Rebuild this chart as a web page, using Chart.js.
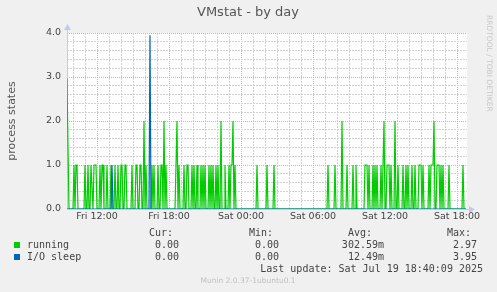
<!DOCTYPE html>
<html>
<head>
<meta charset="utf-8">
<title>VMstat - by day</title>
<script src="https://cdn.jsdelivr.net/npm/chart.js@4.4.1/dist/chart.umd.min.js"></script>
<style>
  html, body { margin: 0; padding: 0; background: #f0f0f0; }
</style>
</head>
<body>
<canvas id="myChart" width="497" height="292"></canvas>
<script>
// one sample every 5 minutes, first one at Fri 09:30 (hours counted from Fri 00:00)
const startHour = 9.5;
const stepHours = 5 / 60;

// process states, 20 samples per row
const running = [
  2.97,1.4,0,0,0,0,0,1,0,1, 1,0,0,0,0,0,0,0,1,0,
  0,1,0,0,1,1,0,1,1,1, 0,0,0,1,0,1,1,0,0,0,
  1,0,0,0,1,0,0,0,1,0, 0,1,0,0,1,1,0,0,1,1,
  0,0,0,0,0,1,0,0,0,1, 1,0,0,1,1,0,0,2,0,1,
  0,0,0,0,0,1,0,1,0,0, 0,1,0,0,1,1,0,2,0,1,
  0,0,0,0,0,0,0,0,0,1, 2,0,1,0,0,0,0,1,0,0,
  1,1,0,0,0,1,0,1,0,0, 1,0,0,0,1,0,1,0,1,0,
  0,0,1,0,1,0,1,0,0,1, 0,1,0,0,2,0,0,0,1,0,
  0,0,1,0,1,1,2,0,1,0, 0,0,0,0,0,0,0,0,0,0,
  0,0,0,0,0,0,0,0,0,0, 1,0,0,0,0,0,0,0,0,0,
  1,0,0,0,0,0,0,1,0,0, 0,0,0,0,0,0,0,0,0,0,
  0,0,0,0,0,0,0,0,0,0, 0,0,0,0,0,0,0,0,0,0,
  0,0,0,0,0,0,0,0,0,0, 0,0,0,0,0,0,0,0,0,0,
  0,1,0,0,0,0,0,0,1,0, 0,0,0,0,0,2,0,0,0,0,
  1,0,0,0,0,0,1,0,0,1, 0,0,0,0,0,0,0,0,1,1,
  1,0,1,0,0,0,1,0,1,0, 1,0,0,0,1,0,0,2,0,0,
  1,1,1,0,1,0,0,0,2,0, 0,1,0,0,0,0,1,0,0,1,
  0,1,0,0,0,1,0,0,1,0, 0,0,1,1,1,0,1,0,0,0,
  0,0,1,0,1,1,1,2,0,0, 1,1,1,0,1,0,1,0,0,0,
  0,0,1,0,0,0,0,0,0,0, 0,0,0,0,0,0,1,0,0,0
];

const ioSleep = [
  0,0,0,0,0,0,0,0,0,0, 0,0,0,0,0,0,0,0,0,0,
  0,0,0,0,0,0,0,0,0,0, 0,0,0,0,0,0,0,0,0,0,
  0,0,0,0,0,1,0,0,0,0, 0,0,0,0,0,0,0,0,0,0,
  0,0,0,0,0,0,0,0,0,0, 0,0,0,0,0,0,0,0,0,0,
  0,0,0,3.95,0,0,0,0,0,0, 0,0,0,0,0,0,0,0,0,0,
  0,0,0,0,0,0,0,0,0,0, 0,0,0,0,0,0,0,0,0,0,
  0,0,0,0,0,0,0,0,0,0, 0,0,0,0,0,0,0,0,0,0,
  0,0,0,0,0,0,0,0,0,0, 0,0,0,0,0,0,0,0,0,0,
  0,0,0,0,0,0,0,0,0,0, 0,0,0,0,0,0,0,0,0,0,
  0,0,0,0,0,0,0,0,0,0, 0,0,0,0,0,0,0,0,0,0,
  0,0,0,0,0,0,0,0,0,0, 0,0,0,0,0,0,0,0,0,0,
  0,0,0,0,0,0,0,0,0,0, 0,0,0,0,0,0,0,0,0,0,
  0,0,0,0,0,0,0,0,0,0, 0,0,0,0,0,0,0,0,0,0,
  0,0,0,0,0,0,0,0,0,0, 0,0,0,0,0,0,0,0,0,0,
  0,0,0,0,0,0,0,0,0,0, 0,0,0,0,0,0,0,0,0,0,
  0,0,0,0,0,0,0,0,0,0, 0,0,0,0,0,0,0,0,0,0,
  0,0,0,0,0,0,0,0,0,0, 0,0,0,0,0,0,0,0,0,0,
  0,0,0,0,0,0,0,0,0,0, 0,0,0,0,0,0,0,0,0,0,
  0,0,0,0,0,0,0,0,0,0, 0,0,0,0,0,0,0,0,0,0,
  0,0,0,0,0,0,0,0,0,0, 0,0,0,0,0,0,0,0,0,0
];

const xTickHours = [12, 18, 24, 30, 36, 42];
const xTickLabels = ['Fri 12:00', 'Fri 18:00', 'Sat 00:00', 'Sat 06:00', 'Sat 12:00', 'Sat 18:00'];
const yTickValues = [0, 1, 2, 3, 4];
const yTickLabels = ['0.0', '1.0', '2.0', '3.0', '4.0'];

// legend table
const seriesNames = ['running', 'I/O sleep'];
const seriesColors = ['#00cc00', '#0066b3'];
const curValues = ['0.00', '0.00'];
const minValues = ['0.00', '0.00'];
const avgValues = ['302.59m', '12.49m'];
const maxValues = ['2.97', '3.95'];
const chartTitle = 'VMstat - by day';
const lastUpdate = 'Last update: Sat Jul 19 18:40:09 2025';
const muninVersion = 'Munin 2.0.37-1ubuntu0.1';

function toPoints(values) {
  return values.map((v, i) => ({ x: startHour + i * stepHours, y: v }));
}

function isWhole(v) {
  return Math.abs(v - Math.round(v)) < 1e-6;
}

const mono = '10px "DejaVu Sans Mono", monospace';
const majorGrid = '#e6a8a8';
const minorGrid = '#d2d2d2';

// background, axes with arrows, title, legend table and side texts
const muninPlugin = {
  id: 'munin',
  beforeDraw(chart) {
    const { ctx, chartArea: a } = chart;
    ctx.save();
    ctx.fillStyle = '#f0f0f0';
    ctx.fillRect(0, 0, chart.width, chart.height);
    ctx.fillStyle = '#ffffff';
    ctx.fillRect(a.left, a.top, a.right - a.left, a.bottom - a.top);
    ctx.restore();
  },
  beforeDatasetsDraw(chart) {
    const { ctx, chartArea: a } = chart;
    ctx.save();
    ctx.strokeStyle = '#c4c8f0';
    ctx.fillStyle = '#c4c8f0';
    ctx.lineWidth = 1;
    ctx.beginPath();
    ctx.moveTo(a.left + 0.5, a.bottom);
    ctx.lineTo(a.left + 0.5, a.top - 4);
    ctx.moveTo(a.left, a.bottom + 0.5);
    ctx.lineTo(a.right + 3, a.bottom + 0.5);
    ctx.stroke();
    ctx.beginPath();
    ctx.moveTo(a.left - 3, a.top - 3);
    ctx.lineTo(a.left + 4, a.top - 3);
    ctx.lineTo(a.left + 0.5, a.top - 9);
    ctx.closePath();
    ctx.fill();
    ctx.beginPath();
    ctx.moveTo(a.right + 2, a.bottom - 3);
    ctx.lineTo(a.right + 2, a.bottom + 4);
    ctx.lineTo(a.right + 8, a.bottom + 0.5);
    ctx.closePath();
    ctx.fill();
    ctx.restore();
  },
  afterDraw(chart) {
    const ctx = chart.ctx;
    ctx.save();
    ctx.textBaseline = 'middle';

    ctx.font = '13px "DejaVu Sans", sans-serif';
    ctx.fillStyle = '#555';
    ctx.textAlign = 'center';
    ctx.fillText(chartTitle, 248, 13);

    ctx.font = mono;
    ctx.fillStyle = '#444';
    ctx.textAlign = 'left';
    ctx.fillText('Cur:', 149, 233);
    ctx.fillText('Min:', 249, 233);
    ctx.fillText('Avg:', 348, 233);
    ctx.fillText('Max:', 447, 233);
    seriesNames.forEach((name, i) => {
      const y = 245 + i * 12;
      ctx.fillStyle = seriesColors[i];
      ctx.fillRect(14, y - 3, 6, 6);
      ctx.fillStyle = '#444';
      ctx.textAlign = 'left';
      ctx.fillText(name, 27, y);
      ctx.textAlign = 'right';
      ctx.fillText(curValues[i], 179, y);
      ctx.fillText(minValues[i], 279, y);
      ctx.fillText(avgValues[i], 384, y);
      ctx.fillText(maxValues[i], 477, y);
    });
    ctx.textAlign = 'right';
    ctx.fillText(lastUpdate, 483, 269);

    ctx.fillStyle = '#c0c0c0';
    ctx.textAlign = 'center';
    ctx.font = '7.5px "DejaVu Sans", sans-serif';
    ctx.fillText(muninVersion, 248, 281);

    ctx.translate(489, 15);
    ctx.rotate(Math.PI / 2);
    ctx.textAlign = 'left';
    ctx.fillStyle = '#c8c8c8';
    ctx.fillText('RRDTOOL / TOBI OETIKER', 0, 0);
    ctx.restore();
  }
};

const ctx = document.getElementById('myChart').getContext('2d');
const myChart = new Chart(ctx, {
  type: 'line',
  data: {
    datasets: [
      {
        label: 'running',
        data: toPoints(running),
        borderColor: '#00cc00',
        borderWidth: 1.2,
        pointRadius: 0,
        tension: 0,
        order: 2
      },
      {
        label: 'I/O sleep',
        data: toPoints(ioSleep),
        borderColor: '#0066b3',
        borderWidth: 1.2,
        pointRadius: 0,
        tension: 0,
        order: 1
      }
    ]
  },
  options: {
    responsive: false,
    devicePixelRatio: 1,
    animation: false,
    events: [],
    layout: { padding: { left: 0, right: 30, top: 33, bottom: 0 } },
    plugins: {
      legend: { display: false },
      tooltip: { enabled: false },
      title: { display: false }
    },
    scales: {
      x: {
        type: 'linear',
        min: startHour,
        max: startHour + running.length * stepHours,
        afterBuildTicks(scale) {
          const ticks = [];
          for (let h = 10; h <= 42; h++) ticks.push({ value: h });
          scale.ticks = ticks;
        },
        afterFit(scale) { scale.height = 83; },
        ticks: {
          autoSkip: false,
          maxRotation: 0,
          minRotation: 0,
          padding: 2,
          color: '#444',
          font: { family: 'DejaVu Sans', size: 9.5 },
          callback(value) {
            const i = xTickHours.indexOf(value);
            return i >= 0 ? xTickLabels[i] : '';
          }
        },
        grid: {
          drawTicks: false,
          lineWidth: 1,
          color(c) {
            return c.tick && c.tick.value % 6 === 0 ? majorGrid : minorGrid;
          }
        },
        border: {
          display: false,
          dash(c) {
            return c.tick && c.tick.value % 6 === 0 ? [1, 1] : [2, 1];
          }
        }
      },
      y: {
        min: 0,
        max: 4,
        afterBuildTicks(scale) {
          const ticks = [];
          for (let k = 0; k <= 20; k++) ticks.push({ value: k / 5 });
          scale.ticks = ticks;
        },
        afterFit(scale) { scale.width = 67; },
        title: {
          display: true,
          text: 'process states',
          color: '#555',
          font: { family: 'DejaVu Sans', size: 11 },
          padding: { top: 6, bottom: 4 }
        },
        ticks: {
          autoSkip: false,
          padding: 6,
          color: '#444',
          font: { family: 'DejaVu Sans', size: 9.5 },
          callback(value) {
            if (!isWhole(value)) return '';
            const i = yTickValues.indexOf(Math.round(value));
            return i >= 0 ? yTickLabels[i] : '';
          }
        },
        grid: {
          drawTicks: false,
          lineWidth: 1,
          color(c) {
            return c.tick && isWhole(c.tick.value) ? majorGrid : minorGrid;
          }
        },
        border: {
          display: false,
          dash(c) {
            return c.tick && isWhole(c.tick.value) ? [1, 1] : [2, 1];
          }
        }
      }
    }
  },
  plugins: [muninPlugin]
});
</script>
</body>
</html>
